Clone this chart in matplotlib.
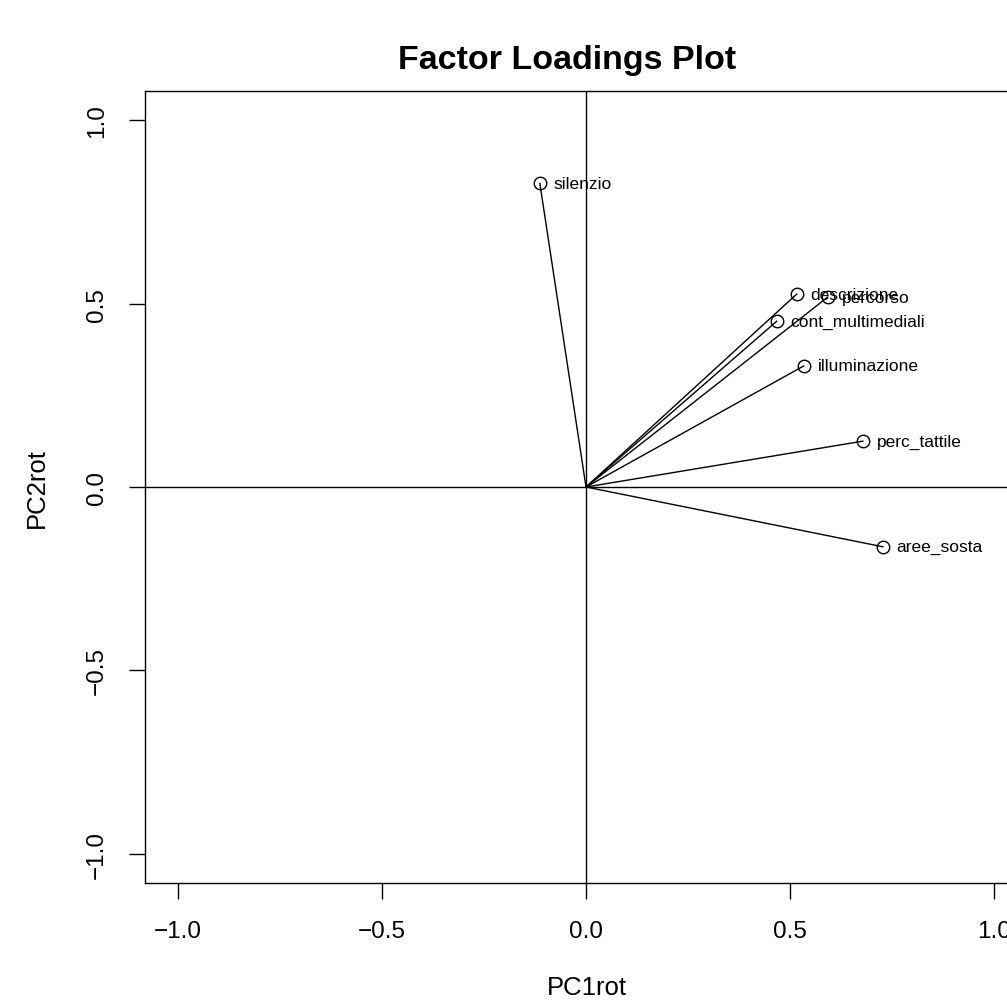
import matplotlib
matplotlib.use("Agg")
import matplotlib.pyplot as plt

variables = ["silenzio", "descrizione", "percorso", "cont_multimediali",
             "illuminazione", "perc_tattile", "aree_sosta"]
pc1rot = [-0.113, 0.516, 0.592, 0.467, 0.533, 0.678, 0.727]
pc2rot = [0.828, 0.526, 0.518, 0.452, 0.330, 0.125, -0.163]
ticks = [-1.0, -0.5, 0.0, 0.5, 1.0]
tick_labels = ["\u22121.0", "\u22120.5", "0.0", "0.5", "1.0"]

plt.rcParams['font.family'] = ['Liberation Sans', 'DejaVu Sans']

W, H = 1007, 1003
fig = plt.figure(figsize=(W / 100, H / 100), dpi=100)
ax = fig.add_axes([145 / W, 1 - 884 / H, (1027 - 145) / W, (884 - 92) / H])
ax.set_xlim(-1.08, 1.08)
ax.set_ylim(-1.08, 1.08)

ax.axhline(0, color='black', lw=1.0, zorder=1)
ax.axvline(0, color='black', lw=1.0, zorder=1)

for x, y in zip(pc1rot, pc2rot):
    ax.plot([0, x], [0, y], color='black', lw=1.0, zorder=2)
ax.plot(pc1rot, pc2rot, linestyle='none', marker='o', markersize=9,
        markerfacecolor='none', markeredgecolor='black', markeredgewidth=1.0, zorder=3)
for x, y, name in zip(pc1rot, pc2rot, variables):
    ax.annotate(name, (x, y), xytext=(10, 0), textcoords='offset points',
                ha='left', va='center', fontsize=12.5, zorder=4)

for s in ax.spines.values():
    s.set_linewidth(1.0)
ax.set_xticks(ticks)
ax.set_xticklabels(tick_labels)
ax.set_yticks(ticks)
ax.set_yticklabels(tick_labels, rotation=90, va='center')
ax.tick_params(axis='both', direction='out', length=11.5, width=1.0, labelsize=17.5)
ax.tick_params(axis='x', pad=15)
ax.tick_params(axis='y', pad=15)

fig.text(587 / W, 1 - 988 / H, "PC1rot", ha='center', va='center', fontsize=18.5)
fig.text(37 / W, 1 - 488 / H, "PC2rot", ha='center', va='center', fontsize=18.5, rotation=90)
fig.text(567 / W, 1 - 60 / H, "Factor Loadings Plot", ha='center', va='center',
         fontsize=24.5, fontweight='bold')

fig.savefig("out.png", dpi=100)
